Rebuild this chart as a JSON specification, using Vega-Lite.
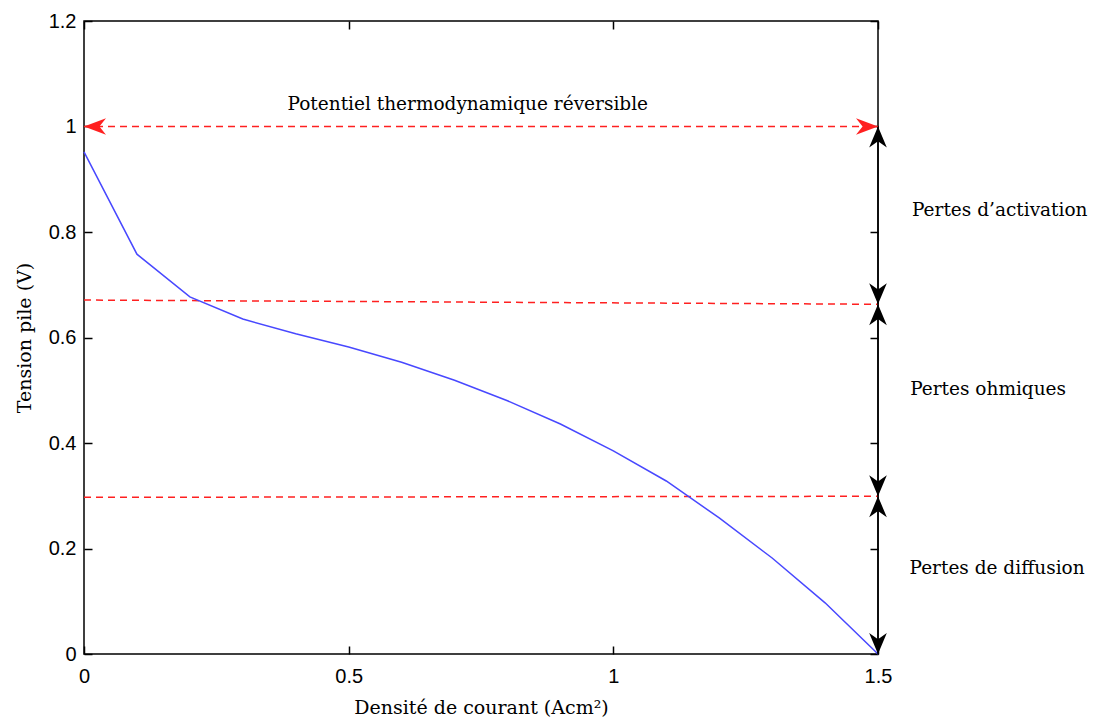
{
  "$schema": "https://vega.github.io/schema/vega-lite/v6.json",
  "width": 794,
  "height": 633,
  "autosize": {"type": "none"},
  "padding": {"left": 84, "top": 21, "right": 216, "bottom": 67},
  "background": "white",
  "config": {
    "view": {"stroke": "black", "strokeWidth": 1.5},
    "axis": {
      "grid": false, "domain": false, "tickColor": "black", "tickWidth": 1.5, "labelFlush": false,
      "labelFont": "Liberation Sans", "labelFontSize": 20, "labelColor": "black",
      "titleFont": "DejaVu Serif", "titleFontSize": 19, "titleFontWeight": "normal", "titleColor": "black"
    }
  },
  "datasets": {
    "curve": [
      {"j": 0.0, "v": 0.952}, {"j": 0.1, "v": 0.758}, {"j": 0.2, "v": 0.677},
      {"j": 0.3, "v": 0.635}, {"j": 0.4, "v": 0.607}, {"j": 0.5, "v": 0.582},
      {"j": 0.6, "v": 0.553}, {"j": 0.7, "v": 0.519}, {"j": 0.8, "v": 0.48},
      {"j": 0.9, "v": 0.436}, {"j": 1.0, "v": 0.385}, {"j": 1.1, "v": 0.328},
      {"j": 1.2, "v": 0.258}, {"j": 1.3, "v": 0.182}, {"j": 1.4, "v": 0.097},
      {"j": 1.5, "v": 0.0}
    ],
    "levels": [
      {"j": 0, "v": 1.0, "seg": "rev"}, {"j": 1.5, "v": 1.0, "seg": "rev"},
      {"j": 0, "v": 0.671, "seg": "act"}, {"j": 1.5, "v": 0.663, "seg": "act"},
      {"j": 0, "v": 0.297, "seg": "ohm"}, {"j": 1.5, "v": 0.299, "seg": "ohm"}
    ],
    "losses": [
      {"j": 1.5, "v": 1.0, "v2": 0.663},
      {"j": 1.5, "v": 0.663, "v2": 0.299},
      {"j": 1.5, "v": 0.299, "v2": 0.0}
    ],
    "redheads": [
      {"j": 0, "v": 1.0, "dir": "left"}, {"j": 1.5, "v": 1.0, "dir": "right"}
    ],
    "blackheads": [
      {"j": 1.5, "v": 1.0, "dir": "up"}, {"j": 1.5, "v": 0.663, "dir": "down"},
      {"j": 1.5, "v": 0.663, "dir": "up"}, {"j": 1.5, "v": 0.299, "dir": "down"},
      {"j": 1.5, "v": 0.299, "dir": "up"}, {"j": 1.5, "v": 0.0, "dir": "down"}
    ],
    "labels": [
      {"j": 0.725, "v": 1.043, "t": "Potentiel thermodynamique réversible"},
      {"j": 1.73, "v": 0.842, "t": "Pertes d’activation"},
      {"j": 1.708, "v": 0.502, "t": "Pertes ohmiques"},
      {"j": 1.725, "v": 0.163, "t": "Pertes de diffusion"}
    ]
  },
  "layer": [
    {
      "data": {"name": "levels"},
      "mark": {"type": "line", "color": "#ff2020", "strokeWidth": 1.5, "strokeDash": [7, 5]},
      "encoding": {
        "x": {"field": "j", "type": "quantitative", "scale": {"domain": [0, 1.5], "nice": false},
          "axis": {"orient": "bottom", "values": [0, 0.5, 1, 1.5], "format": "~g", "offset": -8, "tickSize": 8, "labelPadding": 12, "title": "Densité de courant (Acm²)", "titlePadding": 12}},
        "y": {"field": "v", "type": "quantitative", "scale": {"domain": [0, 1.2], "nice": false},
          "axis": {"orient": "left", "values": [0, 0.2, 0.4, 0.6, 0.8, 1, 1.2], "format": "~g", "offset": -8, "tickSize": 8, "labelPadding": 8, "title": "Tension  pile (V)", "titlePadding": 14}},
        "detail": {"field": "seg"}
      }
    },
    {
      "data": {"name": "curve"},
      "mark": {"type": "line", "color": "#4848ff", "strokeWidth": 1.5},
      "encoding": {
        "x": {"field": "j", "type": "quantitative",
          "axis": {"orient": "top", "values": [0, 0.5, 1, 1.5], "labels": false, "offset": -8, "tickSize": 8, "title": null}},
        "y": {"field": "v", "type": "quantitative",
          "axis": {"orient": "right", "values": [0, 0.2, 0.4, 0.6, 0.8, 1, 1.2], "labels": false, "offset": -8, "tickSize": 8, "title": null}}
      }
    },
    {
      "data": {"name": "losses"},
      "mark": {"type": "rule", "color": "black", "strokeWidth": 1.5},
      "encoding": {
        "x": {"field": "j", "type": "quantitative", "axis": null},
        "y": {"field": "v", "type": "quantitative", "axis": null},
        "y2": {"field": "v2"}
      }
    },
    {
      "data": {"name": "redheads"},
      "mark": {"type": "point", "filled": true, "color": "#ff2020", "opacity": 1, "size": 1936},
      "encoding": {
        "x": {"field": "j", "type": "quantitative", "axis": null},
        "y": {"field": "v", "type": "quantitative", "axis": null},
        "shape": {"field": "dir", "type": "nominal", "legend": null,
          "scale": {"domain": ["left", "right", "up", "down"],
            "range": ["M0,0 L1,-0.38 L0.7,0 L1,0.38 Z", "M0,0 L-1,-0.38 L-0.7,0 L-1,0.38 Z", "M0,0 L0.42,1 L0,0.7 L-0.42,1 Z", "M0,0 L0.42,-1 L0,-0.7 L-0.42,-1 Z"]}}
      }
    },
    {
      "data": {"name": "blackheads"},
      "mark": {"type": "point", "filled": true, "color": "black", "opacity": 1, "size": 1764},
      "encoding": {
        "x": {"field": "j", "type": "quantitative", "axis": null},
        "y": {"field": "v", "type": "quantitative", "axis": null},
        "shape": {"field": "dir", "type": "nominal", "legend": null}
      }
    },
    {
      "data": {"name": "labels"},
      "mark": {"type": "text", "font": "DejaVu Serif", "fontSize": 18.5, "color": "black", "align": "center", "baseline": "middle"},
      "encoding": {
        "x": {"field": "j", "type": "quantitative", "axis": null},
        "y": {"field": "v", "type": "quantitative", "axis": null},
        "text": {"field": "t"}
      }
    }
  ],
  "resolve": {"axis": {"x": "independent", "y": "independent"}}
}
